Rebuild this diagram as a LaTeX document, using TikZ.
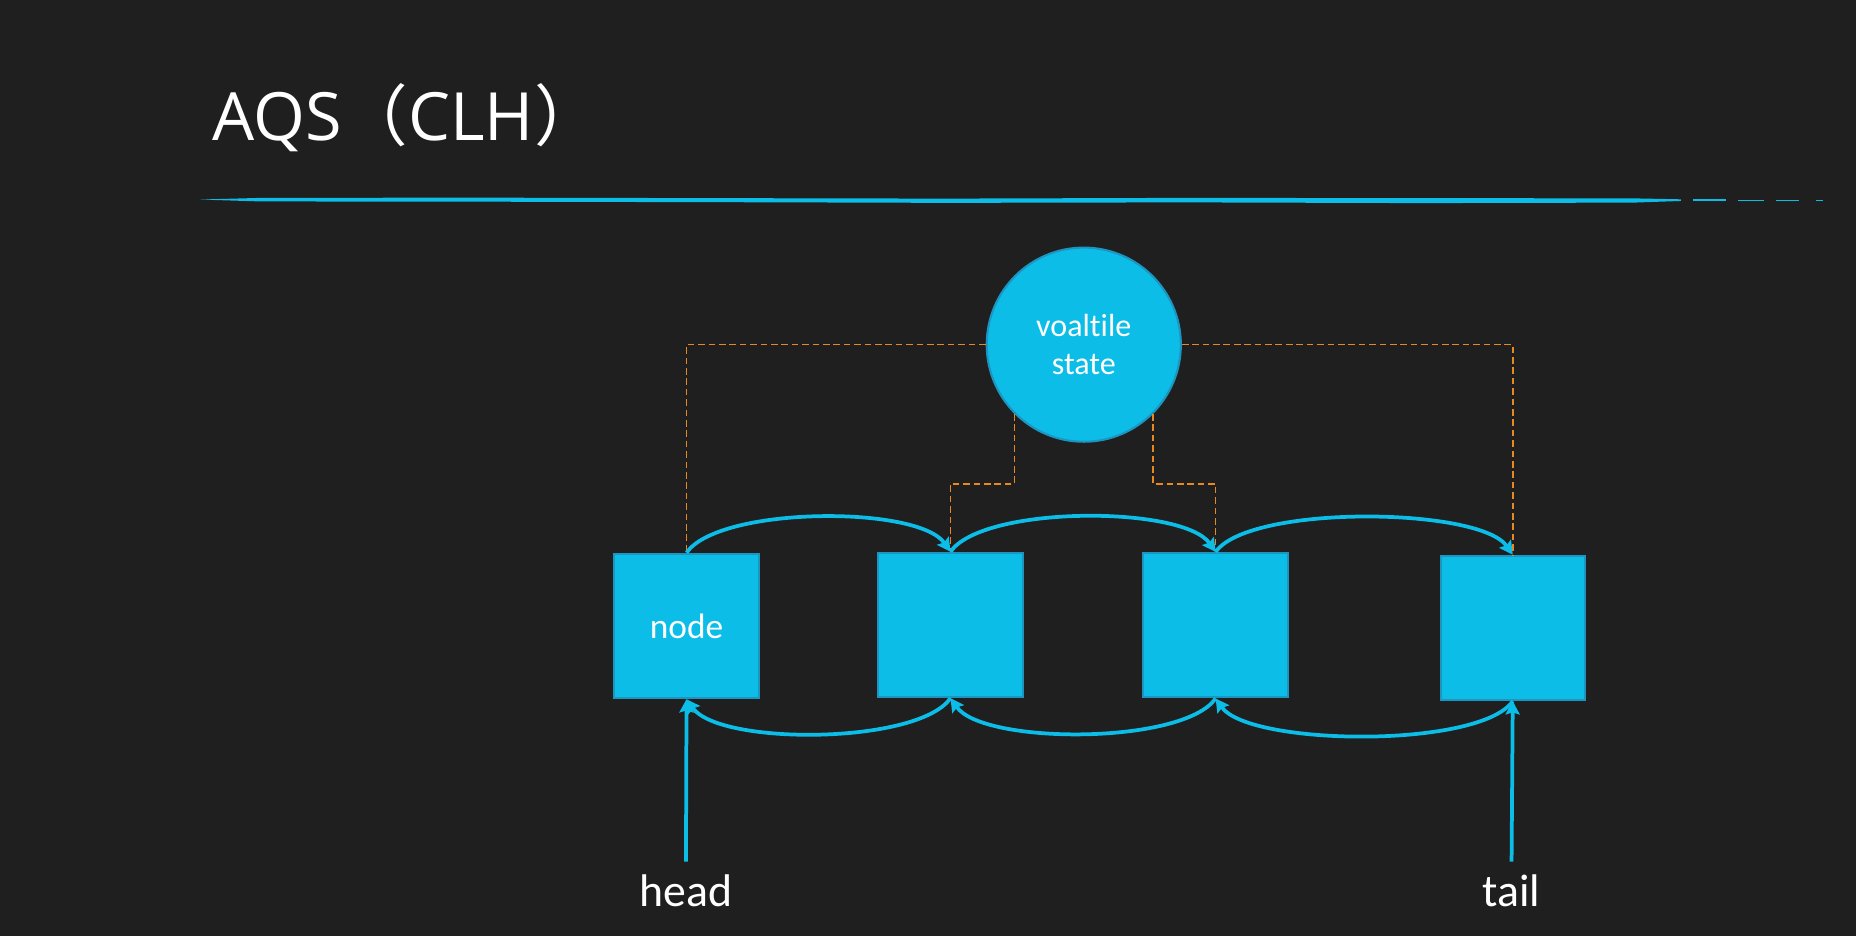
\documentclass[tikz,border=0pt]{standalone}
\usepackage{fontspec}
\setmainfont{Carlito}[Ligatures = NoCommon]
\newfontfamily\titlefont{Open Sans}
\newfontfamily\cjk{Noto Sans CJK SC}
\usetikzlibrary{arrows.meta, positioning}
\definecolor{board}{RGB}{31,31,31}
\definecolor{qblue}{RGB}{12,189,232}
\definecolor{qedge}{RGB}{28,150,192}
\definecolor{qorange}{RGB}{232,136,32}

\tikzset{
    qnode/.style = {draw = qedge, line width = 0.5pt, fill = qblue, minimum size = 1.22cm, inner sep = 0pt, text = white, font = \fontsize{8.5pt}{10pt}\selectfont},
    ptr/.style = {draw = qblue, line width = 0.9pt, -{Stealth[length = 3.2pt, width = 3.4pt, inset = 0.5pt]}},
    link/.style = {draw = qorange, line width = 0.4pt, dash pattern = on 1.6pt off 0.9pt},
    endtext/.style = {anchor = base, inner sep = 3pt, text = white, font = \fontsize{11pt}{13pt}\selectfont}
}

\begin{document}
\begin{tikzpicture}
        \fill [board] (0, 0) rectangle (15.68, 7.908);
        \useasboundingbox (0, 0) rectangle (15.68, 7.908);

        \node [anchor = base west, inner sep = 0pt, text = white, font = \titlefont\fontsize{16pt}{19pt}\selectfont] (title) at (1.79, 6.725) {AQS{\cjk （}CLH{\cjk ）}};

        % chalk rule under the title
        \fill [qblue] (1.69, 6.222) -- (2.2, 6.236) -- (4, 6.238) -- (6, 6.234) -- (8, 6.230) -- (10, 6.236) -- (12, 6.234) -- (13.8, 6.232) -- (14.2, 6.224)
            -- (14.2, 6.210) -- (13.8, 6.196) -- (12, 6.192) -- (10, 6.198) -- (8, 6.194) -- (6, 6.200) -- (4, 6.204) -- (2.2, 6.206) -- cycle;
        \fill [qblue] (14.30, 6.224) rectangle (14.58, 6.212);
        \fill [qblue] (14.68, 6.222) rectangle (14.90, 6.212);
        \fill [qblue] (15.00, 6.222) rectangle (15.20, 6.214);
        \fill [qblue] (15.34, 6.222) rectangle (15.40, 6.214);

        \node [circle, draw = qedge, line width = 0.5pt, fill = qblue, minimum size = 1.64cm, inner sep = 0pt, align = center, text = white, font = \fontsize{7.7pt}{9pt}\selectfont] (state) at (9.156, 4.996) {voaltile\\state};

        \node [qnode] (n1) at (5.80, 2.620) {node};
        \node [qnode] (n2) at (8.03, 2.628) {};
        \node [qnode] (n3) at (10.27, 2.626) {};
        \node [qnode] (n4) at (12.78, 2.603) {};

        \draw [link] (state.west) -| (n1.north);
        \draw [link] (state.east) -| (n4.north);
        \draw [link] (state.225) -- ++(0, -0.59) -| (n2.north);
        \draw [link] (state.-45) -- ++(0, -0.59) -| (n3.north);

        \draw [ptr] (n1.north) to [out = 55, in = 125, looseness = 0.55] (n2.north);
        \draw [ptr] (n2.north) to [out = 55, in = 125, looseness = 0.55] (n3.north);
        \draw [ptr] (n3.north) to [out = 55, in = 125, looseness = 0.5] (n4.north);

        \draw [ptr] (n2.south) to [out = -125, in = -55, looseness = 0.55] (n1.south);
        \draw [ptr] (n3.south) to [out = -125, in = -55, looseness = 0.55] (n2.south);
        \draw [ptr] (n4.south) to [out = -125, in = -55, looseness = 0.5] (n3.south);

        \node [endtext] (head) at (5.795, 0.248) {head};
        \node [endtext] (tail) at (12.77, 0.248) {tail};
        \draw [ptr] (head.north) -- (n1.south);
        \draw [ptr] (tail.north) -- (n4.south);
    \end{tikzpicture}
\end{document}
